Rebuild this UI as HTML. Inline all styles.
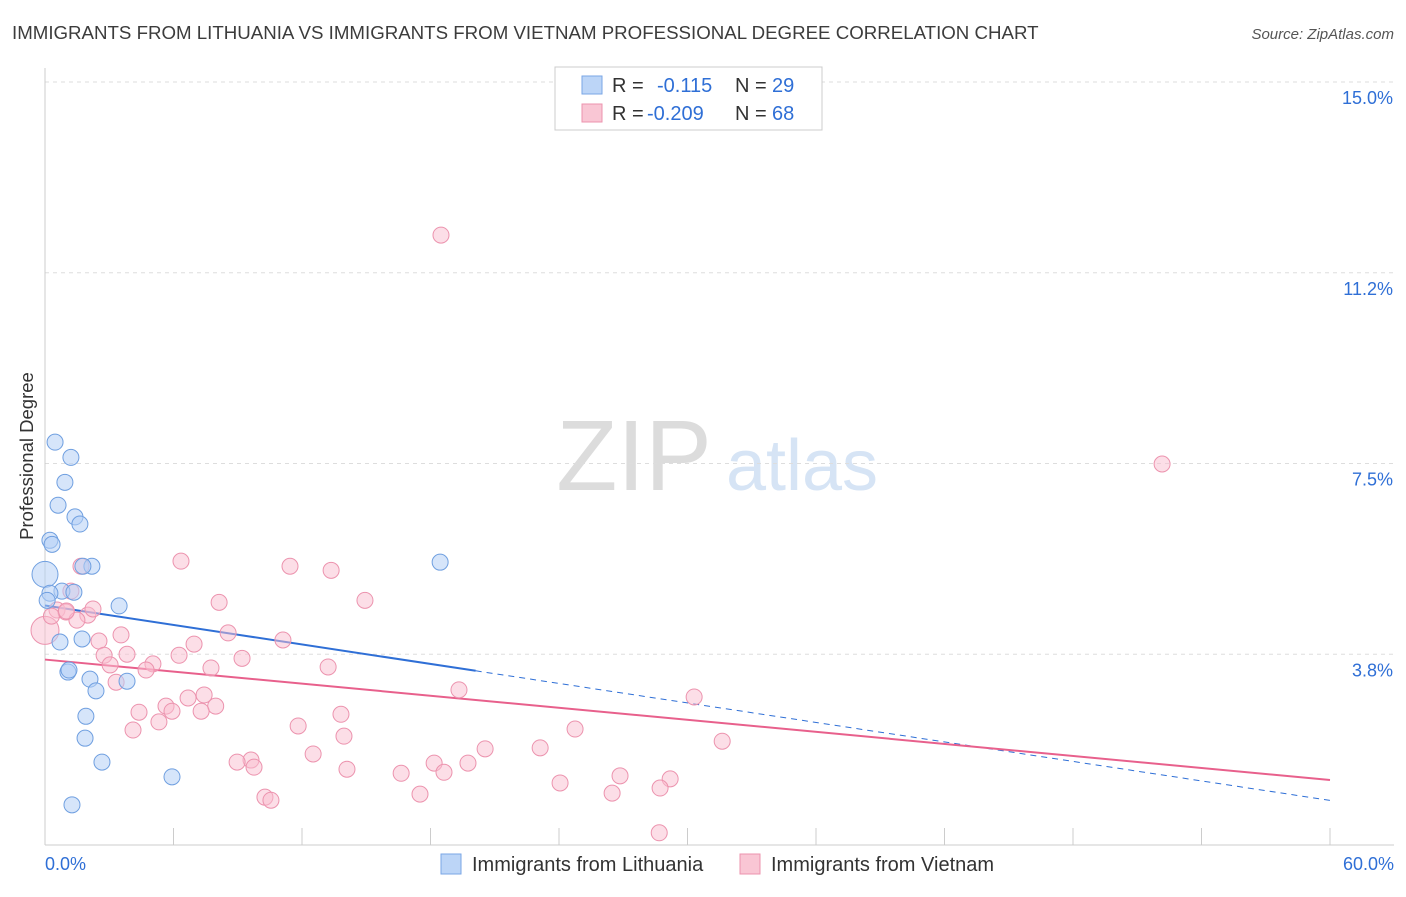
<!DOCTYPE html>
<html><head><meta charset="utf-8">
<style>
body{margin:0;background:#fff;font-family:"Liberation Sans",sans-serif;}
svg text{font-family:"Liberation Sans",sans-serif;}
</style></head>
<body>
<svg id="chart" width="1406" height="892" viewBox="0 0 1406 892" xmlns="http://www.w3.org/2000/svg">
<text x="12" y="39" font-size="18.7" fill="#3c3c3c">IMMIGRANTS FROM LITHUANIA VS IMMIGRANTS FROM VIETNAM PROFESSIONAL DEGREE CORRELATION CHART</text>
<text x="1394" y="39" font-size="15" fill="#555" font-style="italic" text-anchor="end">Source: ZipAtlas.com</text>
<g>
<text x="634" y="490" font-size="100" fill="#dcdcdc" font-family="Liberation Serif,serif" text-anchor="middle">ZIP</text>
<text x="802" y="490" font-size="72" fill="#d6e4f5" text-anchor="middle">atlas</text>
</g>
<g id="grid"></g>
<g id="axes"></g>
<text transform="translate(33,456) rotate(-90)" font-size="18.5" fill="#333" text-anchor="middle">Professional Degree</text>
<g id="trend"></g>
<g id="points"></g>
<g>
<rect x="555" y="67" width="267" height="63" fill="#fff" stroke="#ccc"/>
<rect x="582" y="76" width="20" height="18" fill="#bcd5f7" stroke="#7aa6e6"/>
<text x="612" y="92" font-size="20" fill="#333">R = </text><text x="657" y="92" font-size="20" fill="#2f6fd6">-0.115</text>
<text x="735" y="92" font-size="20" fill="#333">N = </text><text x="772" y="92" font-size="20" fill="#2f6fd6">29</text>
<rect x="582" y="104" width="20" height="18" fill="#f9c6d4" stroke="#ec93ae"/>
<text x="612" y="120" font-size="20" fill="#333">R = </text><text x="647" y="120" font-size="20" fill="#2f6fd6">-0.209</text>
<text x="735" y="120" font-size="20" fill="#333">N = </text><text x="772" y="120" font-size="20" fill="#2f6fd6">68</text>
</g>
<g>
<rect x="441" y="854" width="20" height="20" fill="#bcd5f7" stroke="#7aa6e6"/>
<text x="472" y="871" font-size="20" fill="#333">Immigrants from Lithuania</text>
<rect x="740" y="854" width="20" height="20" fill="#f9c6d4" stroke="#ec93ae"/>
<text x="771" y="871" font-size="20" fill="#333">Immigrants from Vietnam</text>
</g>
</svg>
<script>
const yTicks=[3.75,7.5,11.25,15];
const yTickLabels=["3.8%","7.5%","11.2%","15.0%"];
const xTicks=[0,6,12,18,24,30,36,42,48,54,60];
const xEndLabels=["0.0%","60.0%"];
const lithX=[0.47,1.21,0.93,0.61,1.40,1.63,0.23,0.33,0,2.19,1.77,0.79,1.35,3.46,0.70,1.73,1.07,2.10,2.38,3.83,1.91,1.87,2.66,5.93,1.26,18.45,0.23,1.12,0.1];
const lithY=[7.92,7.62,7.13,6.68,6.45,6.31,5.99,5.91,5.32,5.48,5.48,4.99,4.97,4.70,3.99,4.05,3.40,3.26,3.03,3.22,2.53,2.10,1.63,1.34,0.79,5.56,4.95,3.44,4.81];
const vietX=[18.49,52.16,6.35,11.44,13.36,14.94,8.13,1.68,1.21,0.56,0.98,2.0,2.24,1.49,0,3.55,8.55,11.11,2.52,6.96,2.76,3.83,6.26,9.20,3.04,5.04,4.72,7.75,13.22,3.32,19.33,30.31,6.68,7.43,5.65,7.97,4.39,5.93,7.29,13.82,5.32,11.82,4.11,24.75,13.96,31.62,20.55,23.12,12.52,9.62,8.97,18.17,19.75,9.76,14.10,16.63,18.63,26.85,29.19,24.05,28.72,17.51,26.48,10.27,10.55,28.68,0.3,1.0];
const vietY=[11.99,7.49,5.58,5.48,5.40,4.81,4.77,5.48,4.99,4.62,4.58,4.52,4.64,4.42,4.22,4.13,4.17,4.03,4.01,3.95,3.73,3.75,3.73,3.67,3.54,3.56,3.44,3.48,3.50,3.20,3.05,2.91,2.89,2.95,2.73,2.73,2.61,2.63,2.63,2.57,2.42,2.34,2.26,2.28,2.14,2.04,1.89,1.91,1.79,1.67,1.63,1.61,1.61,1.53,1.49,1.41,1.43,1.36,1.30,1.22,1.12,1.0,1.02,0.94,0.88,0.24,4.5,4.6];
const NS="http://www.w3.org/2000/svg";
const X0=45,X1=1330,Y0=845,Y15=82;
function xs(v){return X0+(X1-X0)*v/60;}
function ys(v){return Y0-(Y0-Y15)*v/15;}
function mk(t,a,p){const e=document.createElementNS(NS,t);for(const k in a)e.setAttribute(k,a[k]);p.appendChild(e);return e;}
const grid=document.getElementById('grid'),axes=document.getElementById('axes');
yTicks.forEach((v,i)=>{
 const l=mk('line',{x1:45,x2:1394,y1:ys(v),y2:ys(v),stroke:'#ddd','stroke-dasharray':'4,4'},grid);
 
 
 const t=mk('text',{x:1393,y:ys(v)+22,'font-size':18,fill:'#2f6fd6','text-anchor':'end'},axes);
 t.textContent=yTickLabels[i];
 
 
});
const ya=mk('line',{x1:45,x2:45,y1:68,y2:845,stroke:'#ccc'},axes);


const xa=mk('line',{x1:45,x2:1394,y1:845,y2:845,stroke:'#ccc'},axes);


xTicks.forEach(v=>{
 const l=mk('line',{x1:xs(v),x2:xs(v),y1:828,y2:845,stroke:'#ccc'},axes);
 
 
});
[[0,'start',45],[60,'end',1394]].forEach((d,i)=>{
 const t=mk('text',{x:d[2],y:870,'font-size':18,fill:'#2f6fd6','text-anchor':d[1]},axes);
 t.textContent=xEndLabels[i];
 
 
});
function fit(X,Y){const n=X.length;let mx=0,my=0;for(let i=0;i<n;i++){mx+=X[i];my+=Y[i];}mx/=n;my/=n;let sxy=0,sxx=0;for(let i=0;i<n;i++){sxy+=(X[i]-mx)*(Y[i]-my);sxx+=(X[i]-mx)**2;}const b=sxy/sxx;return [my-b*mx,b];}
const tr=document.getElementById('trend');
let [la,lb]=fit(lithX,lithY);lb*=1.12;
const lmax=Math.max(...lithX)*1.09;
const t1=mk('line',{x1:xs(0),y1:ys(la),x2:xs(lmax),y2:ys(la+lb*lmax),stroke:'#2f6fd6','stroke-width':2},tr);


const t2=mk('line',{x1:xs(lmax),y1:ys(la+lb*lmax),x2:xs(60),y2:ys(la+lb*60),stroke:'#2f6fd6','stroke-width':1,'stroke-dasharray':'6,5'},tr);


const [va,vb]=fit(vietX,vietY);
const t3=mk('line',{x1:xs(0),y1:ys(va),x2:xs(60),y2:ys(va+vb*60),stroke:'#e8608c','stroke-width':2},tr);


const pts=document.getElementById('points');
vietX.forEach((x,i)=>{
 const c=mk('circle',{cx:xs(x),cy:ys(vietY[i]),r:x===0?14:8,fill:'rgba(249,190,208,0.5)',stroke:'#ec93ae','stroke-width':1},pts);
 
 
});
lithX.forEach((x,i)=>{
 const c=mk('circle',{cx:xs(x),cy:ys(lithY[i]),r:x===0?13:8,fill:'rgba(180,208,245,0.55)',stroke:'#6f9fe0','stroke-width':1},pts);
 
 
});
</script>
</body></html>
